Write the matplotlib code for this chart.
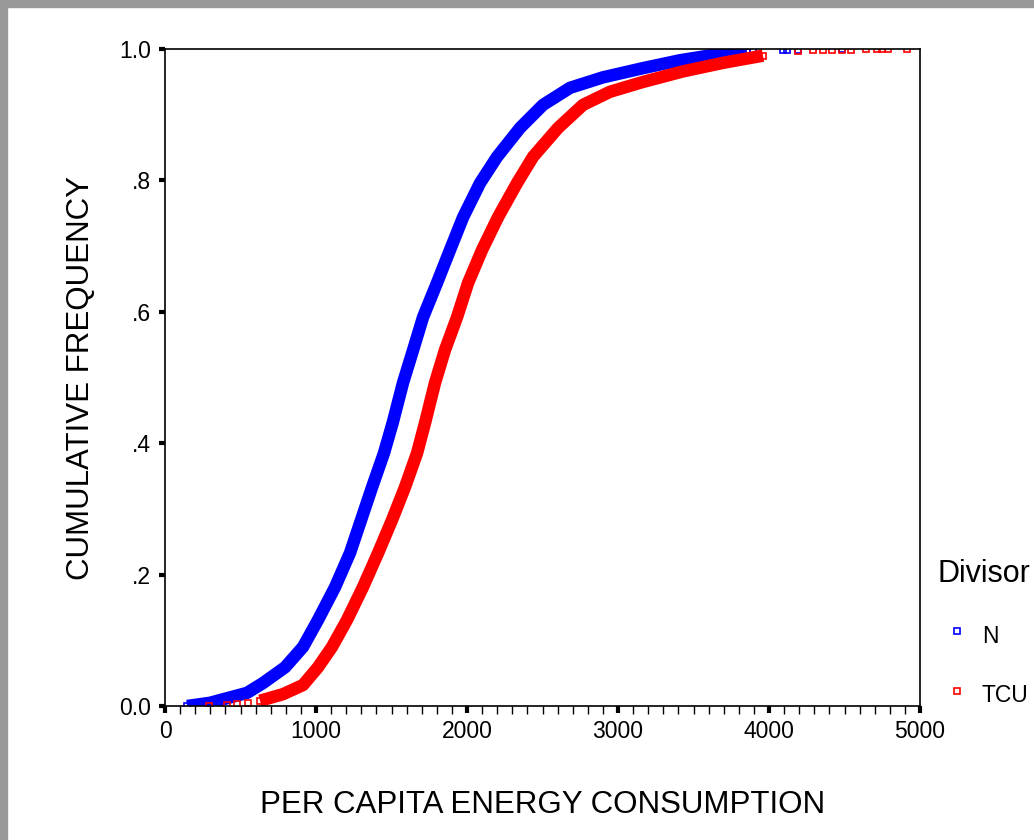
import matplotlib
matplotlib.use("Agg")
import matplotlib.pyplot as plt
from matplotlib.patches import Rectangle

plt.rcParams['font.family'] = ['Liberation Sans', 'DejaVu Sans']

# cumulative frequency of per capita energy consumption
n_x = [146, 300, 364, 543, 649, 795, 914, 1013, 1126, 1225, 1298, 1371, 1450,
       1510, 1576, 1643, 1709, 1801, 1887, 1974, 2086, 2199, 2351, 2503,
       2682, 2901, 3166, 3411, 3629, 3854]
n_f = [0.0, 0.005, 0.009, 0.02, 0.035, 0.059, 0.09, 0.131, 0.181, 0.233, 0.283,
       0.333, 0.385, 0.433, 0.492, 0.542, 0.592, 0.644, 0.694, 0.744, 0.796,
       0.836, 0.880, 0.915, 0.941, 0.957, 0.971, 0.983, 0.991, 0.995]
n_tail_x = [3894, 4093, 4119, 4192, 4483]
n_tail_f = [0.997, 0.998, 0.998, 0.999, 1.0]

tcu_head_x = [291, 411, 477, 550]
tcu_head_f = [0.0, 0.002, 0.003, 0.004]
tcu_x = [629, 781, 914, 1013, 1106, 1205, 1311, 1411, 1503, 1589, 1669, 1722,
         1788, 1854, 1934, 2007, 2099, 2205, 2331, 2437, 2603, 2768, 2947,
         3166, 3430, 3695, 3960]
tcu_f = [0.008, 0.018, 0.032, 0.059, 0.09, 0.131, 0.181, 0.233, 0.283, 0.333,
         0.385, 0.431, 0.492, 0.542, 0.592, 0.644, 0.694, 0.744, 0.796, 0.836,
         0.880, 0.915, 0.935, 0.950, 0.966, 0.979, 0.990]
tcu_tail_x = [4192, 4291, 4358, 4417, 4483, 4543, 4642, 4715, 4748, 4788, 4914]
tcu_tail_f = [0.997, 0.998, 0.998, 0.998, 0.999, 0.999, 1.0, 1.0, 1.0, 1.0, 1.0]

yticks = [0.0, 0.2, 0.4, 0.6, 0.8, 1.0]
ytick_labels = ['0.0', '.2', '.4', '.6', '.8', '1.0']
xticks = [0, 1000, 2000, 3000, 4000, 5000]

blue = '#0000ff'
red = '#ff0000'

fig = plt.figure(figsize=(10.34, 8.4), dpi=100)
fig.patches.append(Rectangle((0, 1 - 7 / 840), 1, 7 / 840, transform=fig.transFigure,
                             color='#999999', zorder=0))
fig.patches.append(Rectangle((0, 0), 7 / 1034, 1, transform=fig.transFigure,
                             color='#999999', zorder=0))

ax = fig.add_axes([0.1596, 0.1595, 0.7302, 0.7821])

mk = dict(marker='s', markersize=5, markerfacecolor='none', markeredgewidth=1.2)

ax.plot(n_x, n_f, color=blue, lw=9, solid_joinstyle='round', solid_capstyle='butt', **mk)
ax.plot(n_tail_x, n_tail_f, color=blue, ls='none', **mk)
ax.plot(tcu_x, tcu_f, color=red, lw=9, solid_joinstyle='round', solid_capstyle='butt', **mk)
ax.plot(tcu_head_x, tcu_head_f, color=red, ls='none', **mk)
ax.plot(tcu_tail_x, tcu_tail_f, color=red, ls='none', **mk)

ax.set_xlim(0, 5000)
ax.set_ylim(0, 1.0)
ax.set_xticks(xticks)
ax.set_xticks(range(0, 5001, 100), minor=True)
ax.set_yticks(yticks)
ax.set_yticklabels(ytick_labels)
ax.tick_params(axis='x', which='major', length=5, width=3, labelsize=16.5, pad=5)
ax.tick_params(axis='x', which='minor', length=6, width=1)
ax.tick_params(axis='y', which='major', length=4, width=3, labelsize=16.5, pad=6)
for s in ax.spines.values():
    s.set_linewidth(1.2)

ax.set_xlabel('PER CAPITA ENERGY CONSUMPTION', fontsize=22.5)
ax.set_ylabel('CUMULATIVE FREQUENCY', fontsize=22.5)
ax.xaxis.set_label_coords(0.5, -0.128)
ax.yaxis.set_label_coords(-0.092, 0.5)

# legend drawn as plain text and markers, like the original
fig.text(938 / 1034, 1 - 582 / 840, 'Divisor', fontsize=22, va='baseline', ha='left')
fig.text(982 / 1034, 1 - 643 / 840, 'N', fontsize=16.5, va='baseline', ha='left')
fig.text(982 / 1034, 1 - 702 / 840, 'TCU', fontsize=16.5, va='baseline', ha='left')
fig.lines.append(plt.Line2D([957 / 1034], [1 - 631 / 840], transform=fig.transFigure,
                            color=blue, ls='none', **mk))
fig.lines.append(plt.Line2D([957 / 1034], [1 - 691 / 840], transform=fig.transFigure,
                            color=red, ls='none', **mk))

fig.savefig('out.png', dpi=100)
